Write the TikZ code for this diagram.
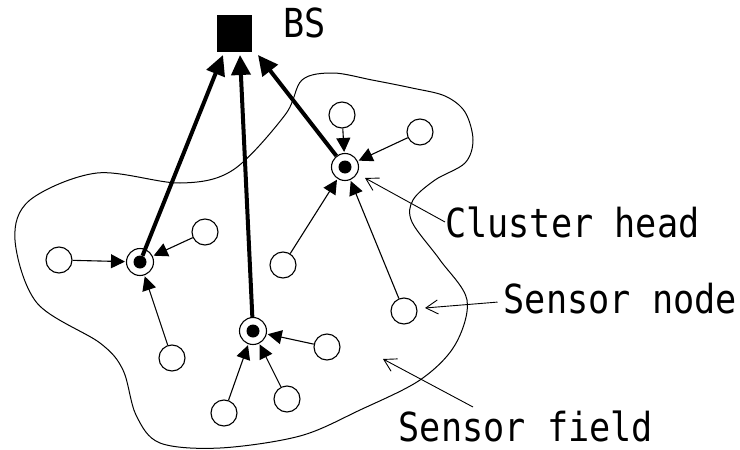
\documentclass[tikz,border=0pt]{standalone}
\usepackage{fontspec}
\newfontfamily\lblfont{DejaVu Sans Mono}[FakeStretch=0.88]
\usetikzlibrary{arrows.meta}
\begin{document}
\begin{tikzpicture}[x=1pt,y=-1pt,
  sn/.style={circle,draw,line width=1.1pt,minimum size=26pt,inner sep=0pt,fill=white},
  ch/.style={circle,draw,line width=1.1pt,minimum size=27pt,inner sep=0pt,fill=white},
  chdot/.style={circle,fill,minimum size=13pt,inner sep=0pt},
  link/.style={line width=1.1pt,-{Triangle[length=14pt,width=14pt]},shorten >=1pt},
  uplink/.style={line width=4pt,-{Triangle[length=20pt,width=19pt]}},
  pointer/.style={line width=0.9pt,-{Straight Barb[length=12pt,width=14pt]}},
  lbl/.style={font=\lblfont\fontsize{40}{40}\selectfont,anchor=base west,inner sep=0pt}]
\useasboundingbox (0,0) rectangle (740,450);

% sensor field boundary
\draw[line width=1pt] plot[smooth cycle, tension=0.55] coordinates {
  (333,73) (372,80) (412,88) (445,96) (465,112) (473,140) (465,163) (435,180)
  (413,200) (412,222) (440,260) (467,300) (455,345) (420,380) (360,410)
  (300,436) (220,448) (160,443) (136,415) (123,370) (100,343) (37,303)
  (15,240) (30,200) (97,173) (180,183) (233,170) (285,115) (302,80)};

% base station
\node[fill,minimum width=35pt,minimum height=37pt,inner sep=0pt] (bs) at (234.5,33) {};
\node[lbl] (lbs) at (283.5,37) {BS};
\coordinate (t1) at (223,55);
\coordinate (t2) at (240,55);
\coordinate (t3) at (258,55);

% cluster heads
\node[ch] (c1) at (140,262) {};
\node[chdot] (c1d) at (c1) {};
\node[ch] (c2) at (253,331) {};
\node[chdot] (c2d) at (c2) {};
\node[ch] (c3) at (345,167) {};
\node[chdot] (c3d) at (c3) {};

% sensor nodes
\node[sn] (s11) at (59,260) {};
\node[sn] (s12) at (205,232) {};
\node[sn] (s13) at (172,358) {};
\node[sn] (s21) at (327,347) {};
\node[sn] (s22) at (287,399) {};
\node[sn] (s23) at (224,413) {};
\node[sn] (s31) at (342,115) {};
\node[sn] (s32) at (420,132) {};
\node[sn] (s33) at (283,265) {};
\node[sn] (s34) at (404,311) {};

% links to cluster heads
\draw[link] (s11) -- (c1);
\draw[link] (s12) -- (c1);
\draw[link] (s13) -- (c1);
\draw[link] (s21) -- (c2);
\draw[link] (s22) -- (c2);
\draw[link] (s23) -- (c2);
\draw[link] (s31) -- (c3);
\draw[link] (s32) -- (c3);
\draw[link] (s33) -- (c3);
\draw[link] (s34) -- (c3);

% links to BS
\draw[uplink] (c1d) -- (t1);
\draw[uplink] (c2) -- (t2);
\draw[uplink] (c3) -- (t3);

% labels
\node[lbl] (lch) at (445,237) {Cluster head};
\node[lbl] (lsn) at (503.5,313) {Sensor node};
\node[lbl] (lsf) at (398.5,441) {Sensor field};
\coordinate (pch) at (365,178);
\coordinate (psn) at (425,308);
\coordinate (psf) at (383,359);
\coordinate (sf0) at (473,407);
\draw[pointer] (lch.west) -- (pch);
\draw[pointer] ([shift={(-6,4)}]lsn.west) -- (psn);
\draw[pointer] (sf0) -- (psf);
\end{tikzpicture}
\end{document}
